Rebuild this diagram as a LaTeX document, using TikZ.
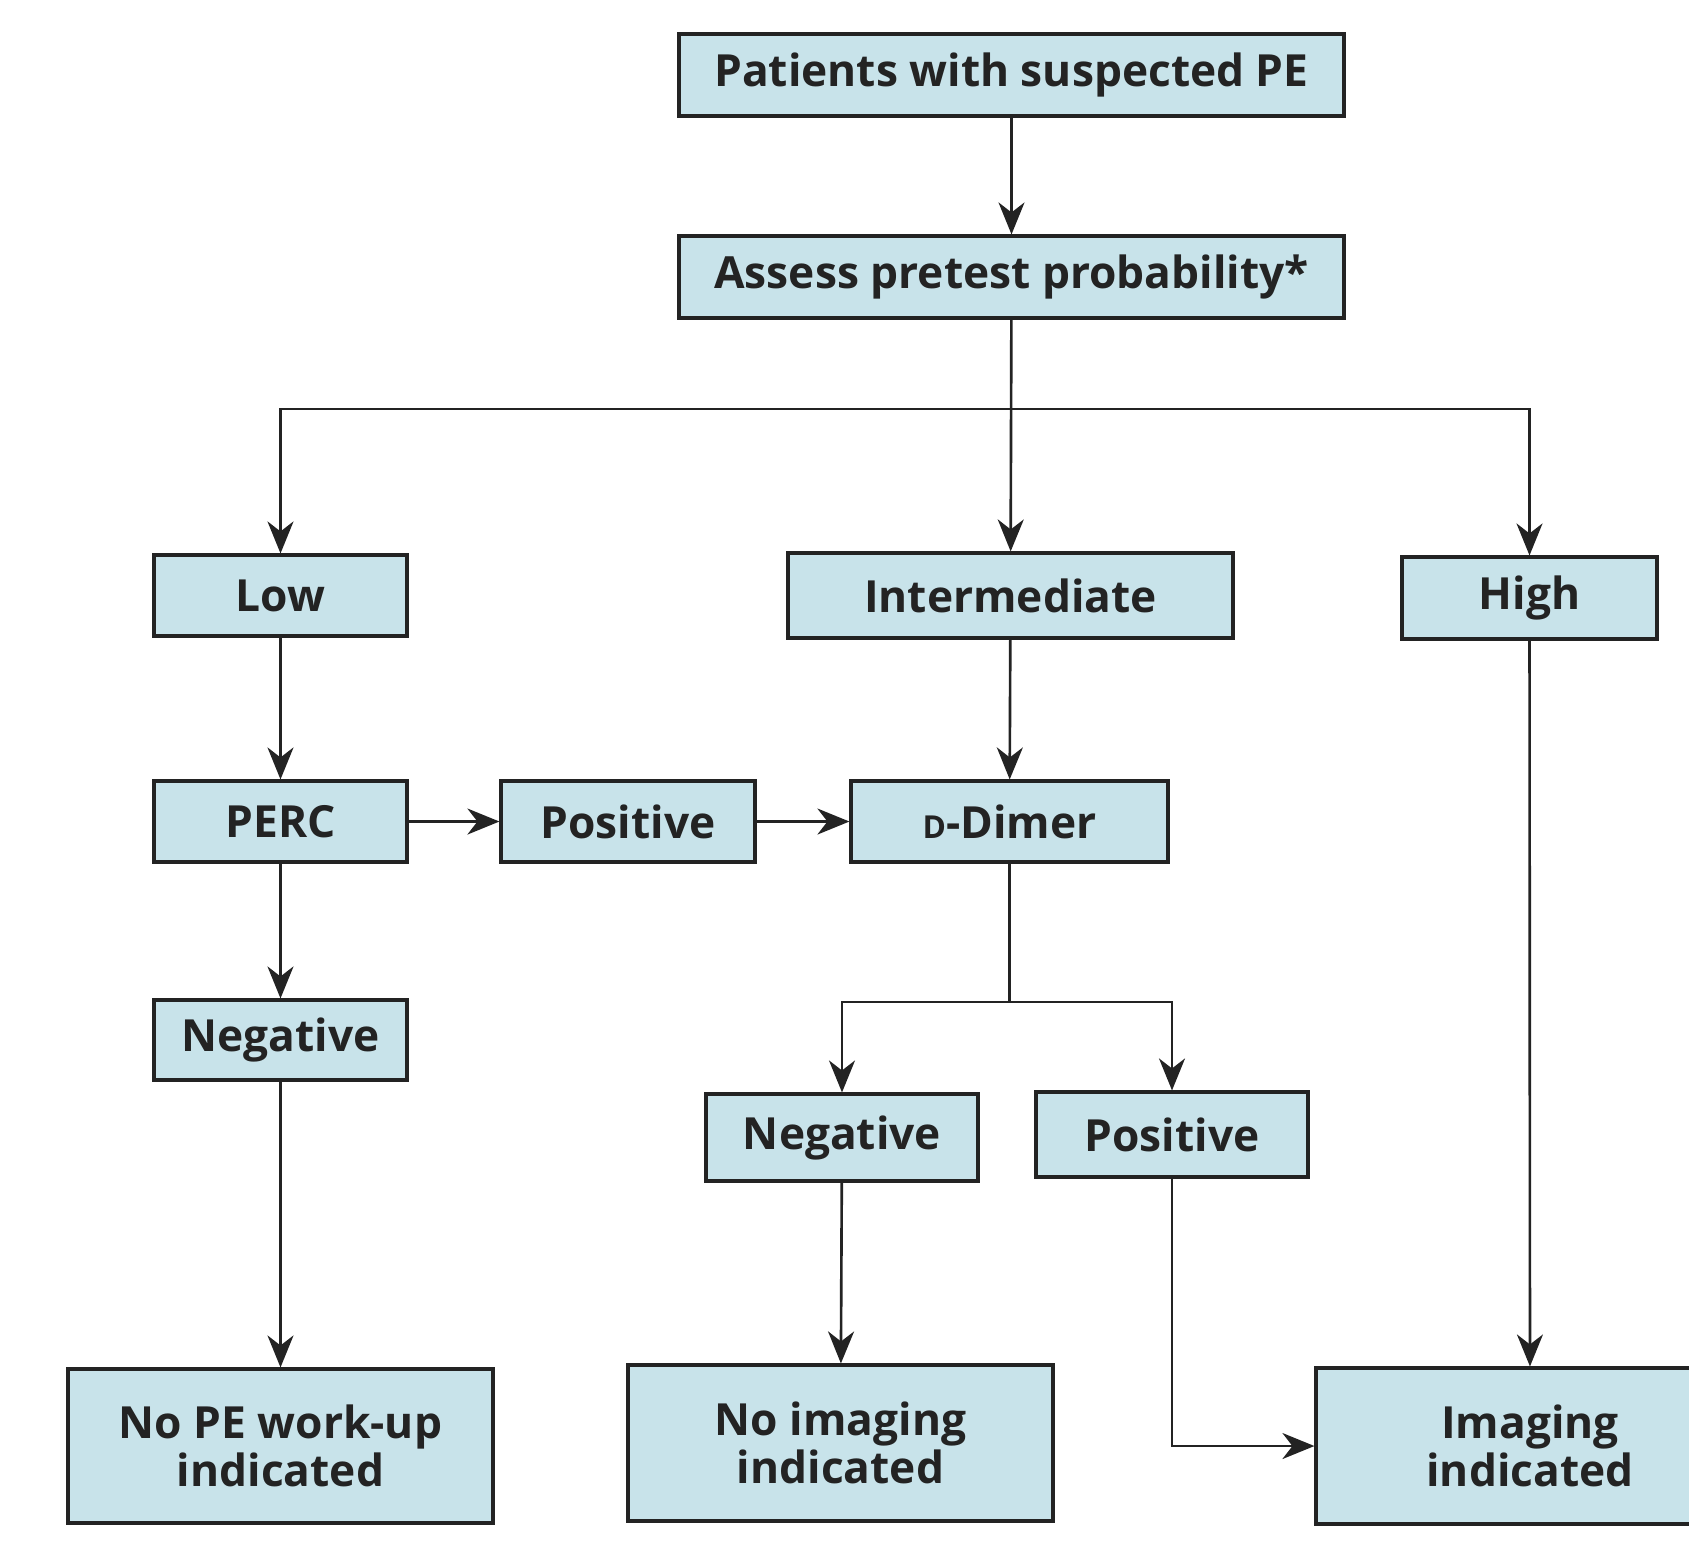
\documentclass[tikz,border=0pt]{standalone}
\usepackage{fontspec}
\setmainfont{Open Sans}
\usetikzlibrary{arrows.meta}
\definecolor{boxblue}{RGB}{200,227,234}
\definecolor{ink}{RGB}{35,35,35}
\newcommand{\smallD}{{\fontsize{9}{10}\selectfont D}}

\begin{document}
\begin{tikzpicture}[
  box/.style={draw=ink, fill=boxblue, line width=.9pt, text=ink, font=\bfseries\fontsize{12.6}{13.6}\selectfont, align=center, inner sep=0pt},
  link/.style={draw=ink, line width=.75pt, -{Stealth[length=3.2mm, width=2.6mm, inset=1mm]}},
  plain/.style={draw=ink, line width=.75pt}]
\useasboundingbox (0,0) rectangle (16.89,-15.40);
\path node[box, minimum width=6.65cm, minimum height=.82cm] (pat) at (10.115,-0.75) {Patients with suspected PE};
\path node[box, minimum width=6.65cm, minimum height=.82cm] (assess) at (10.115,-2.77) {Assess pretest probability*};
\path node[box, minimum width=2.53cm, minimum height=.81cm] (low) at (2.805,-5.955) {Low};
\path node[box, minimum width=4.45cm, minimum height=.85cm] (inter) at (10.105,-5.955) {Intermediate};
\path node[box, minimum width=2.55cm, minimum height=.82cm] (high) at (15.295,-5.98) {High};
\path node[box, minimum width=2.53cm, minimum height=.81cm] (perc) at (2.805,-8.215) {PERC};
\path node[box, minimum width=2.54cm, minimum height=.81cm] (posA) at (6.28,-8.215) {Positive};
\path node[box, minimum width=3.17cm, minimum height=.81cm] (dimer) at (10.095,-8.215) {\smallD-Dimer};
\path node[box, minimum width=2.53cm, minimum height=.80cm] (negA) at (2.805,-10.40) {Negative};
\path node[box, minimum width=2.72cm, minimum height=.87cm] (negB) at (8.42,-11.375) {Negative};
\path node[box, minimum width=2.72cm, minimum height=.85cm] (posB) at (11.72,-11.345) {Positive};
\path node[box, minimum width=4.25cm, minimum height=1.54cm] (nope) at (2.805,-14.46) {No PE work-up\\indicated};
\path node[box, minimum width=4.25cm, minimum height=1.56cm] (noimg) at (8.405,-14.43) {No imaging\\indicated};
\path node[box, minimum width=4.28cm, minimum height=1.56cm] (img) at (15.30,-14.46) {Imaging\\indicated};
\coordinate (split) at (10.115,-4.09);
\coordinate (dsplit) at (10.095,-10.02);
\draw[link] (pat) -- (assess);
\draw[link] (assess) -- (inter);
\draw[link] (split) -| (low);
\draw[link] (split) -| (high);
\draw[link] (low) -- (perc);
\draw[link] (perc) -- (posA);
\draw[link] (posA) -- (dimer);
\draw[link] (inter) -- (dimer);
\draw[link] (perc) -- (negA);
\draw[link] (negA) -- (nope);
\draw[plain] (dimer) -- (dsplit);
\draw[link] (dsplit) -| (negB);
\draw[link] (dsplit) -| (posB);
\draw[link] (negB) -- (noimg);
\draw[link] (posB) |- (img);
\draw[link] (high) -- (img);
\end{tikzpicture}
\end{document}
